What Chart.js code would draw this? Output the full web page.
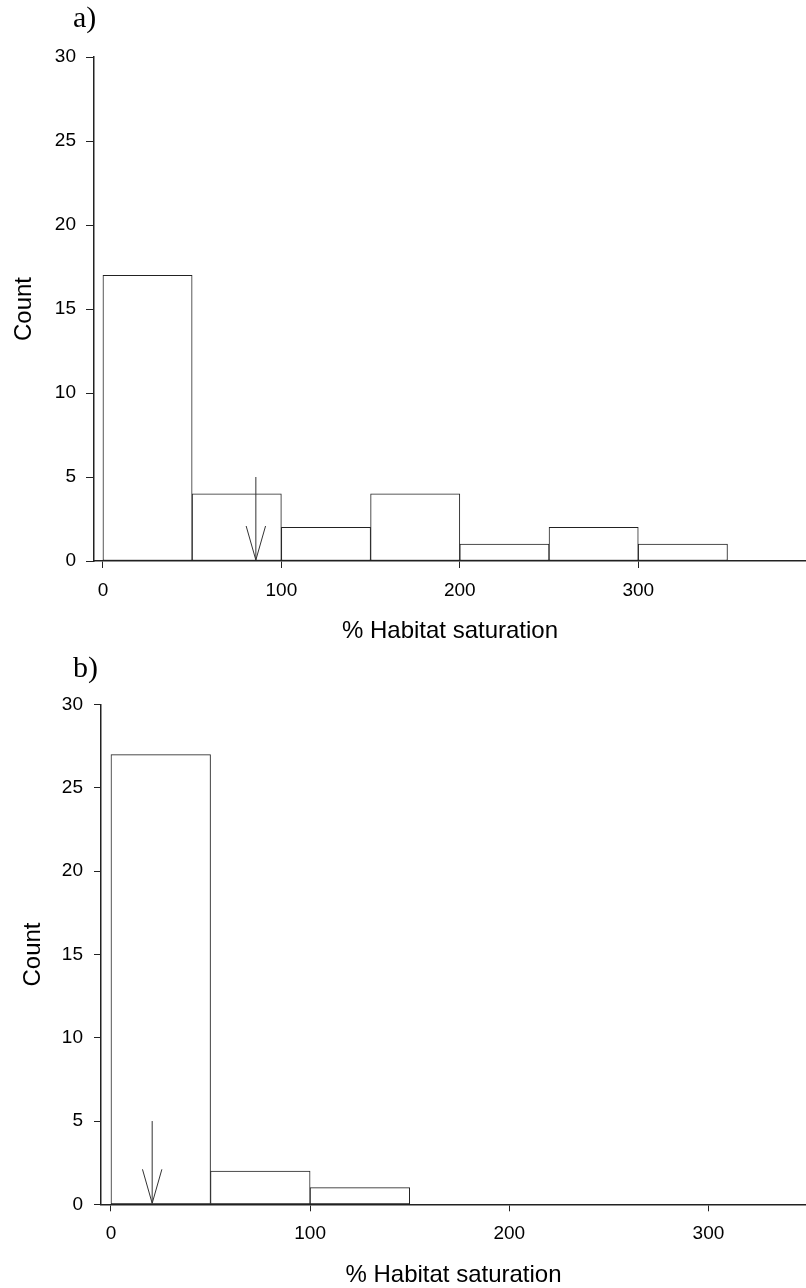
<!DOCTYPE html>
<html>
<head>
<meta charset="utf-8">
<script src="https://cdn.jsdelivr.net/npm/chart.js@4"></script>
<style>
  body { margin: 0; background: #fff; }
  .panel { position: absolute; left: 0; width: 806px; height: 644px; }
  .tag { position: absolute; left: 73px; font: 30px/30px "Liberation Serif", "Times New Roman", serif; color: #000; }
</style>
</head>
<body>
<div class="panel" style="top:0"><canvas id="chartA"></canvas></div>
<div class="panel" style="top:644px"><canvas id="chartB"></canvas></div>
<div class="tag" style="top:2px">a)</div>
<div class="tag" style="top:652px">b)</div>
<script>
// Histogrammes : nombre de sites par classe de saturation (largeur de classe = 50)
const binWidth = 50;
const binStartsA = [0, 50, 100, 150, 200, 250, 300];
const countsA = [17, 4, 2, 4, 1, 2, 1];
const binStartsB = [0, 50, 100];
const countsB = [27, 2, 1];

// position de la flèche (moyenne) et sa hauteur
const arrowA = 85.7;
const arrowB = 20.7;
const arrowTop = 5;

const xTicks = [0, 100, 200, 300];
const yTicks = [0, 5, 10, 15, 20, 25, 30];

const xTitle = '% Habitat saturation';
const yTitle = 'Count';

// Plugin : dessine la flèche verticale à partir des échelles
const arrowPlugin = {
  id: 'arrow',
  afterDatasetsDraw(chart, args, opts) {
    let ctx = chart.ctx;
    let px = chart.scales.x.getPixelForValue(opts.at);
    let y1 = chart.scales.y.getPixelForValue(arrowTop);
    let y0 = chart.scales.y.getPixelForValue(0) - 1;
    ctx.save();
    ctx.strokeStyle = '#333';
    ctx.lineWidth = 1;
    ctx.beginPath();
    ctx.moveTo(px, y1);
    ctx.lineTo(px, y0);
    ctx.moveTo(px - opts.half, y0 - opts.len);
    ctx.lineTo(px, y0);
    ctx.lineTo(px + opts.half, y0 - opts.len);
    ctx.stroke();
    ctx.restore();
  }
};

function makeChart(id, starts, counts, cfg) {
  let data = starts.map((s, i) => ({ x: s + binWidth / 2, y: counts[i] }));
  let ctx = document.getElementById(id).getContext('2d');
  return new Chart(ctx, {
    type: 'bar',
    data: {
      datasets: [{
        data: data,
        backgroundColor: '#fff',
        borderColor: '#222',
        borderWidth: 1,
        borderSkipped: false,
        barPercentage: 1,
        categoryPercentage: 1
      }]
    },
    plugins: [arrowPlugin],
    options: {
      responsive: true,
      maintainAspectRatio: false,
      animation: false,
      layout: { padding: { top: cfg.top, left: 0, right: 0, bottom: 0 } },
      plugins: {
        legend: { display: false },
        tooltip: { enabled: false },
        arrow: { at: cfg.arrow, half: 9.7, len: 34 }
      },
      scales: {
        x: {
          type: 'linear',
          min: -5,
          max: cfg.xMax,
          offset: false,
          afterBuildTicks: scale => { scale.ticks = xTicks.map(v => ({ value: v })); },
          afterFit: scale => { scale.height = cfg.xHeight; },
          border: { display: true, color: '#222', width: 1.5 },
          grid: { display: true, drawOnChartArea: false, drawTicks: true, tickLength: 7, color: '#222', offset: false },
          ticks: { color: '#000', padding: 11, maxRotation: 0, font: { family: 'Liberation Sans, Arial, sans-serif', size: 19 } },
          title: {
            display: true, text: xTitle, color: '#000',
            padding: { top: 0, bottom: 0.5 },
            font: { family: 'Liberation Sans, Arial, sans-serif', size: 24, lineHeight: 1 }
          }
        },
        y: {
          min: 0,
          max: 30,
          afterBuildTicks: scale => { scale.ticks = yTicks.map(v => ({ value: v })); },
          afterFit: scale => { scale.width = cfg.yWidth; },
          border: { display: true, color: '#222', width: 1.5 },
          grid: { display: true, drawOnChartArea: false, drawTicks: true, tickLength: cfg.tick, color: '#222' },
          ticks: { color: '#000', padding: cfg.tickPad, font: { family: 'Liberation Sans, Arial, sans-serif', size: 19 } },
          title: {
            display: true, text: yTitle, color: '#000',
            padding: { top: cfg.titlePad, bottom: 0 },
            font: { family: 'Liberation Sans, Arial, sans-serif', size: 24, lineHeight: 1 }
          }
        }
      }
    }
  });
}

makeChart('chartA', binStartsA, countsA,
  { top: 57, xMax: 394, xHeight: 83, yWidth: 94, tick: 8, tickPad: 10, titlePad: 12, arrow: arrowA });
makeChart('chartB', binStartsB, countsB,
  { top: 60.7, xMax: 349, xHeight: 83.7, yWidth: 101, tick: 7, tickPad: 11, titlePad: 21, arrow: arrowB });
</script>
</body>
</html>
